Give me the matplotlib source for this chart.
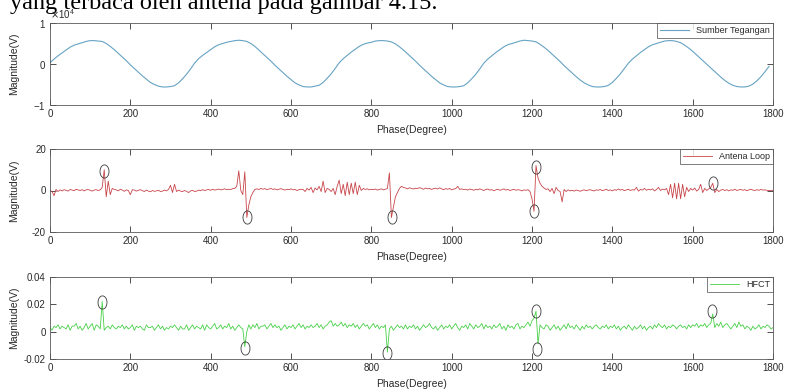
import numpy as np
import matplotlib
matplotlib.use("Agg")
import matplotlib.pyplot as plt
from matplotlib.path import Path

# ---------------- data ----------------
phase_max = 1800
sine_step = 10
antenna_step = 5
hfct_step = 5

# Sumber Tegangan (V), every 10 degrees
sumber = [
    300, 1200, 2000, 2700, 3400, 4100, 4600, 4900, 5200, 5500, 5700, 5700, 5600, 5500, 5000, 4300, 3500, 2600,
    1700, 800, -200, -1100, -2000, -2900, -3700, -4500, -5000, -5400, -5600, -5600, -5500, -5300, -4600, -3600, -2500, -1200,
    200, 1300, 2100, 2800, 3500, 4200, 4700, 5000, 5300, 5500, 5700, 5800, 5700, 5500, 5000, 4300, 3400, 2500,
    1600, 700, -300, -1200, -2100, -3000, -3800, -4600, -5100, -5500, -5600, -5600, -5400, -5200, -4500, -3500, -2400, -1100,
    300, 1300, 2100, 2900, 3600, 4300, 4800, 5100, 5300, 5600, 5700, 5700, 5600, 5400, 4900, 4200, 3400, 2500,
    1600, 700, -300, -1200, -2100, -3000, -3800, -4600, -5100, -5500, -5600, -5600, -5500, -5300, -4600, -3600, -2500, -1200,
    200, 1200, 2000, 2800, 3500, 4200, 4700, 5000, 5300, 5600, 5800, 5700, 5600, 5400, 4800, 4100, 3300, 2400,
    1500, 600, -400, -1300, -2200, -3100, -3900, -4600, -5100, -5500, -5600, -5600, -5500, -5200, -4500, -3500, -2400, -1100,
    200, 1200, 2000, 2800, 3500, 4200, 4700, 5000, 5300, 5600, 5700, 5700, 5500, 5200, 4600, 3900, 3100, 2200,
    1300, 400, -500, -1400, -2300, -3200, -4000, -4700, -5200, -5500, -5600, -5600, -5400, -4900, -4100, -3100, -1900,
    -600,
]

# Antena Loop (V), every 5 degrees
antena = [
    0, -0.5, -2.5, 0.5, -0.5,
    0.3, -0.2, 0.4, 0.1, -0.3, 0.5, 0.2, -0.1, 0.6, 0.3, 0.0, 0.4, -0.2, 0.3, 0.5, 0.1, -0.3, 0.2, 0.4, 0.0, 0.3,
    1.5, 10, -3, 4.5, -2, 1, 0.5,
    0.3, -0.2, 0.6, 0.2, -0.4, 0.3, 0.0,
    -2, 0.4,
    0.2, -0.3, 0.1, 0.4, -0.1, -0.5, 0.2, -0.3, -0.6, 0.0, -0.4, -0.2, 0.1, -0.5, -0.3, 0.2, -0.2,
    0.5, 2.5, -1.0, 3.0, -0.5, 0.2,
    -0.3, -0.5, 0.0, -0.4, -1.0, -0.2, 0.1, -0.5, -0.3, 0.2, -0.1, 0.4, 0.0, 0.3, 0.5, 0.1, 0.6, 0.2, 0.4, 0.7,
    0.3, 0.5, 0.8, 0.4, 0.6, 0.5, 0.9, 1.0,
    2, 9.5, 0, -2, 9, -13, -7, -3, -1, 0.5,
    0.8, 0.5, 1.0, 0.6, 0.9, 0.4, 0.7, 1.0, 0.5, 0.8, 0.3, 0.6, 0.9, 0.5, 0.2, 0.6, 0.4, 0.8, 0.3, 0.5, 0.0, 0.4, 0.6,
    0.5, -0.5, 1.0, 0.2, 1.5, -1.0, 1.2, 0.3, 2.0, -0.5, 4.5, -1.0, 1.0, 0.5, -0.5, 1.0, -2.0, 2.0, 5.0, -1.5,
    3.0, -2.5, 4.0, -2.0, 3.5, -1.5, 4.0, -2.0, 2.5, 0.0, 1.0, 0.5, 0.8, 0.3, 0.6,
    0.4, 0.7, 0.2, 0.5, 0.8, 0.3, 0.6, 1.0,
    8.5, -13, -8, -3, -1, 1.0, 2.0, 1.5,
    1.2, 0.8, 1.3, 1.0, 0.7, 1.1, 0.9, 1.4, 1.0, 0.6, 1.2, 0.8, 1.0, 0.5, 0.9, 1.1, 0.7, 1.3, 0.8, 0.4,
    0.9, 0.6, 1.0, 0.3, 0.7, 0.9, 2.0, 0.5, 0.8, 0.4, 0.6, 0.2, 0.7, 0.5, 0.1, 0.6, 0.3, 0.8, 0.4, 0.0,
    0.5, 0.7, 0.2, 0.4, -0.1, 0.3, 0.6, 0.1, 0.4, 0.8, 0.2, 0.5, 0.0, 0.3, 0.6, 0.1, 0.4, 0.2, -0.2, 0.3,
    0.1, 0.4, -0.5,
    -4, -10, 12, 6, 3.5, 2.0, 1.2, 0.5, 0.8, -0.5, 1.0, -1.5, 1.5, 0.0, -0.5, -5.5, 0.5, -0.5, 0.3,
    -0.2, 0.1, -0.3, 0.2, 0.0, -0.4, 0.1, 0.3, -0.1, 0.2, 0.4, 0.0, -0.2, 0.3, 0.1, 0.5, -0.1, 0.2, 0.6, 0.0,
    0.3, -0.2, 0.4, 0.1, 0.7, 0.2, 0.5, -0.1, 0.3, 0.6, 0.0, 0.4, 0.2, 1.5, -0.3, 0.5, 0.2, 1.0, 0.1, 0.6,
    0.3, 0.8, -0.2, 0.5, 1.5, 0.0, 0.7, 0.3, 1.0,
    -2.0, 3.0, -3.5, 3.5, -4.0, 3.5, -4.0, 3.0, -3.0, 1.5, -0.5,
    1.0, 0.2, 1.2, -0.3, 0.5,
    3.0, -1.0, 1.0, 0.0, 0.8, 1.5, 3.5, -1.0, 0.5, -0.5,
    0.2, 0.5, 0.0, 0.4, -0.2, 0.3, 0.1, 0.6, 0.0, 0.3, 0.5, 0.1, 0.4, -0.1, 0.3, 0.6, 0.2, 0.0, 0.4, 0.1,
    0.5, 0.2, 0.3, 0.1,
    0, 0, 0,
]

# HFCT (mV), every 5 degrees
hfct_milli = [
    3, 1, 4, 3, 5, 2, 4, 3, 2, 5, 1, 4, 4, 6, 2, 4, 1, 3, 6, 2,
    4, 6, 1, 5, 4, 2, 22, 1, 3, 4, 2, 5, 3, 2, 4, 3, 5, 2, 4, 2,
    3, 5, 1, 4, 3, 4, 2, 1, 5, 3, 3, 4, 1, 3, 5, 2, 4, 1, 3, 2,
    4, 3, 5, 3, 1, 4, 2, 2, 5, 1, 3, 5, 2, 4, 3, 2, 5, 1, 5, 3,
    2, 4, 6, 2, 3, 5, 2, 4, 3, 6, 2, 4, 1, 3, 5, 3, 2, -11, 0, 5,
    2, 5, 3, 6, 2, 4, 4, 5, 2, 4, 6, 3, 5, 3, 4, 1, 3, 5, 2, 4,
    3, 5, 2, 4, 6, 3, 5, 2, 4, 3, 5, 3, 4, 6, 3, 5, 2, 4, 5, 7,
    8, 4, 6, 4, 5, 7, 4, 6, 3, 5, 4, 6, 3, 5, 2, 4, 6, 4, 5, 2,
    4, 6, 3, 5, 2, 4, 3, 5, -15, 2, 4, 1, 3, 5, 3, 4, 2, 5, 2, 4,
    3, 5, 2, 4, 1, 3, 5, 3, 4, 6, 3, 2, 4, 1, 3, 5, 2, 4, 3, 5,
    2, 4, 6, 3, 1, 4, 3, 5, 2, 6, 4, 2, 5, 3, 4, 6, 2, 5, 3, 4,
    2, 5, 3, 4, 6, 2, 4, 1, 5, 3, 4, 2, 5, 6, 2, 4, 3, 5, 7, 4,
    8, 10, 15, -9, 5, 3, 2, 5, 4, 1, 3, 5, 2, 4, 1, 3, 5, 2, 6, 3,
    4, 2, 5, 3, 1, 4, 2, 5, 3, 4, 2, 4, 5, 3, 2, 4, 3, 5, 2, 4,
    3, 5, 2, 4, 1, 3, 4, 2, 5, 3, 1, 4, 2, 3, 5, 2, 4, 1, 3, 4,
    2, 5, 3, 6, 4, 3, 5, 2, 4, 3, 5, 4, 2, 4, 5, 3, 4, 2, 5, 3,
    5, 4, 6, 3, 5, 4, 6, 3, 5, 6, 13, 3, 6, 4, 7, 3, 5, 6, 4, 2,
    4, 6, 3, 7, 4, 5, 2, 4, 3, 1, 4, 2, 3, 5, 2, 4, 3, 5, 4, 2,
    3,
]

# circled peaks
antena_circle_x = [135, 490, 852, 1205, 1210, 1651]
antena_circle_y = [9.5, -13, -13, -10, 11.5, 3.6]
hfct_circle_x = [129, 486, 838, 1211, 1213, 1649]
hfct_circle_y = [0.0215, -0.012, -0.0153, 0.0151, -0.0129, 0.015]

x_ticks = [0, 200, 400, 600, 800, 1000, 1200, 1400, 1600, 1800]
ylims = [(-10000, 10000), (-20, 20), (-0.02, 0.04)]
yticks = [[-10000, 0, 10000], [-20, 0, 20], [-0.02, 0, 0.02, 0.04]]
ytick_labels = [None, ["-20", "0", "20"], ["-0.02", "0", "0.02", "0.04"]]
legend_labels = ["Sumber Tegangan", "Antena Loop", "HFCT"]
xlabel = "Phase(Degree)"
ylabel = "Magnitude(V)"
header = "yang terbaca oleh antena pada gambar 4.15."

# ---------------- drawing ----------------
plt.rcParams['font.family'] = ['Liberation Sans', 'DejaVu Sans']

W, H = 786, 391
fig = plt.figure(figsize=(W / 100, H / 100), dpi=100)

def frac(top, bottom):
    return [50 / W, 1 - bottom / H, 723 / W, (bottom - top) / H]

ax1 = fig.add_axes(frac(23, 105))
ax2 = fig.add_axes(frac(149, 232))
ax3 = fig.add_axes(frac(277, 359))
axes = [ax1, ax2, ax3]

xs_sine = np.arange(len(sumber)) * sine_step
xs_ant = np.arange(len(antena)) * antenna_step
xs_hf = np.arange(len(hfct_milli)) * hfct_step
hfct = np.array(hfct_milli) / 1000.0

colors = ["#66a3c4", "#c8454a", "#48d048"]
l1, = ax1.plot(xs_sine, sumber, color=colors[0], lw=0.8)
l2, = ax2.plot(xs_ant, antena, color=colors[1], lw=0.6)
l3, = ax3.plot(xs_hf, hfct, color=colors[2], lw=0.6)
lines = [l1, l2, l3]

t = np.linspace(0, 2 * np.pi, 60)
ell = Path(np.column_stack([0.68 * np.cos(t), np.sin(t)]))
ax2.plot(antena_circle_x, antena_circle_y, ls='none', marker=ell, ms=9.5,
         mfc='none', mec='#3a3a3a', mew=0.6)
ax3.plot(hfct_circle_x, hfct_circle_y, ls='none', marker=ell, ms=9.5,
         mfc='none', mec='#3a3a3a', mew=0.6)

axc = '#5a5a5a'
txtc = '#2a2a2a'
for i, ax in enumerate(axes):
    ax.set_xlim(0, phase_max)
    ax.set_ylim(*ylims[i])
    ax.set_xticks(x_ticks)
    ax.set_yticks(yticks[i])
    if ytick_labels[i] is not None:
        ax.set_yticklabels(ytick_labels[i])
    ax.tick_params(direction='in', length=4, width=0.6, color='#333333',
                   labelsize=7, labelcolor=txtc, top=True, right=True, pad=3)
    for s in ax.spines.values():
        s.set_color(axc)
        s.set_linewidth(0.6)
    ax.set_xlabel(xlabel, fontsize=7.5, color=txtc, labelpad=4)
    ax.set_ylabel(ylabel, fontsize=7.5, color=txtc)
    ax.yaxis.set_label_coords(-0.043, 0.5)
    leg = ax.legend([lines[i]], [legend_labels[i]], loc='upper right', fontsize=6.5,
                    frameon=True, fancybox=False, borderaxespad=0.0, handlelength=3.2,
                    borderpad=0.35, handletextpad=0.8, edgecolor='#444444')
    leg.get_frame().set_linewidth(0.6)
    for tx in leg.get_texts():
        tx.set_color(txtc)

ax1.ticklabel_format(axis='y', style='sci', scilimits=(0, 0), useMathText=True)
ax1.yaxis.get_offset_text().set_fontsize(7)
ax1.yaxis.get_offset_text().set_color(txtc)

fig.text(10 / W, 1 - 9 / H, header, fontsize=17.5, family='Liberation Serif',
         va='baseline', ha='left', color='black')

fig.savefig("out.png", dpi=100)
